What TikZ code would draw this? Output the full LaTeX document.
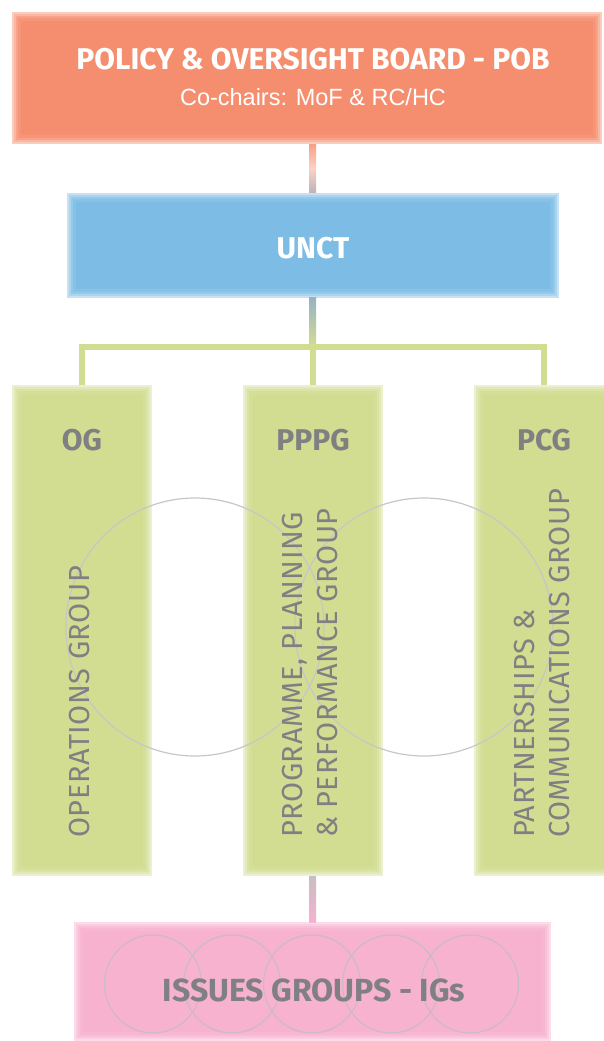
\documentclass[tikz,border=0pt]{standalone}
\usepackage{fontspec}
\setmainfont{Fira Sans}
\newfontfamily\headfont{Fira Sans}
\newfontfamily\subfont{Liberation Sans}
\newfontfamily\vfont[LetterSpace=2]{Fira Sans}
\usetikzlibrary{calc}
\definecolor{pobc}{HTML}{F58E6F}
\definecolor{unctc}{HTML}{7DBDE5}
\definecolor{grc}{HTML}{D3DD92}
\definecolor{pkc}{HTML}{F6B2CF}
\definecolor{txtgray}{HTML}{808083}
\definecolor{circgray}{HTML}{C6C6C6}
\definecolor{linkgray}{HTML}{C9BDC2}
\begin{document}
\begin{tikzpicture}[x=1pt,y=-1pt,
  softbox/.style={draw=none, inner sep=0, outer sep=0, fill=#1!45!white,
    path picture={
      \fill[#1!65!white] ([xshift=2pt,yshift=-2pt]path picture bounding box.north west) rectangle ([xshift=-2pt,yshift=2pt]path picture bounding box.south east);
      \fill[#1!82!white] ([xshift=4pt,yshift=-4pt]path picture bounding box.north west) rectangle ([xshift=-4pt,yshift=4pt]path picture bounding box.south east);
      \fill[#1!93!white] ([xshift=6pt,yshift=-6pt]path picture bounding box.north west) rectangle ([xshift=-6pt,yshift=6pt]path picture bounding box.south east);
      \fill[#1] ([xshift=9pt,yshift=-9pt]path picture bounding box.north west) rectangle ([xshift=-9pt,yshift=9pt]path picture bounding box.south east);
    }},
  headtxt/.style={font=\headfont\bfseries\fontsize{30}{30}\selectfont, inner sep=0, anchor=base},
  vtxt/.style={font=\vfont\fontsize{29}{35}\selectfont, text=txtgray, rotate=90, anchor=west, align=left, inner sep=0},
  circ/.style={draw=circgray, line width=1.2pt},
  bar/.style={draw=grc, line width=6pt},
]
\useasboundingbox (0,0) rectangle (603,1041);
% boxes
\node[softbox=pobc, minimum width=590pt, minimum height=132pt] (pob) at (307,78) {};
\node[softbox=unctc, minimum width=492pt, minimum height=105pt] (unct) at (312.5,245) {};
\node[softbox=grc, minimum width=140pt, minimum height=491pt] (og) at (82,630.5) {};
\node[softbox=grc, minimum width=140pt, minimum height=491pt] (pppg) at (312.5,630.5) {};
\node[softbox=grc, minimum width=140pt, minimum height=491pt] (pcg) at (544,630.5) {};
\node[softbox=pkc, minimum width=477pt, minimum height=119pt] (ig) at (312.5,981.5) {};
% connectors
\shade[top color=pobc!85!white, bottom color=linkgray!85!gray, middle color=pobc!40!white]
  ($(pob.south -| unct.north)+(-3.5,0)$) rectangle ($(unct.north)+(3.5,0)$);
\shade[top color=unctc!50!gray!80!white, bottom color=grc]
  ($(unct.south)+(-3.5,0)$) rectangle ($(unct.south |- 0,347)+(3.5,0)$);
\coordinate (barl) at (og.north |- 0,347);
\coordinate (barr) at (pcg.north |- 0,347);
\draw[bar] (og.north) -- (barl) -- (barr) -- (pcg.north);
\draw[bar] (unct.south |- 0,347) -- (pppg.north);
\shade[top color=linkgray, bottom color=pkc]
  ($(pppg.south)+(-3.5,0)$) rectangle ($(ig.north)+(3.5,0)$);
% titles
\node[headtxt, text=white] (pobt) at (313,70) {POLICY \& OVERSIGHT BOARD - POB};
\node[font=\subfont\fontsize{23.5}{23.5}\selectfont, text=white, inner sep=0, anchor=base] (pobs) at (313,105) {Co-chairs: MoF \& RC/HC};
\node[headtxt, text=white] (unctt) at (313,258) {UNCT};
\node[headtxt, text=txtgray] (ogt) at (82,450) {OG};
\node[headtxt, text=txtgray] (pppgt) at (313,450) {PPPG};
\node[headtxt, text=txtgray] (pcgt) at (544,450) {PCG};
% circles
\draw[circ] (195,627) circle (129);
\draw[circ] (424,627) circle (129);
% vertical texts
\node[vtxt] (ogv) at (80,838) {OPERATIONS GROUP};
\node[vtxt] (pppgv) at (310.5,838) {PROGRAMME, PLANNING\\\& PERFORMANCE GROUP};
\node[vtxt] (pcgv) at (542,838) {PARTNERSHIPS \&\\COMMUNICATIONS GROUP};
% issue circles
\foreach \cx/\nm in {153/a,232/b,312/c,391/d,470/e}
  \draw[circ, draw=circgray!80!pkc!90!gray, line width=1pt] (\cx,984) ellipse (48.5 and 49) coordinate (ic\nm);
\node[headtxt, text=txtgray, font=\headfont\bfseries\fontsize{32}{32}\selectfont] (igt) at (314,1001) {ISSUES GROUPS - IGs};
\end{tikzpicture}
\end{document}
